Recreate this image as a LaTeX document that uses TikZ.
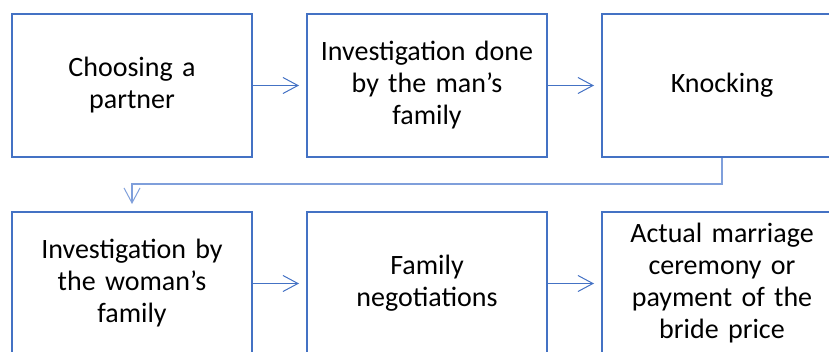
\documentclass[tikz,border=0pt]{standalone}
\usepackage{fontspec}
\setmainfont{Carlito}
\usetikzlibrary{arrows.meta}
\definecolor{boxblue}{HTML}{4472C4}
\definecolor{linkblue}{HTML}{7F9FDB}
\tikzset{
  stagebox/.style={draw=boxblue, line width=2pt, fill=white, minimum width=240pt,
    minimum height=143pt, inner sep=0pt, align=center, text width=220pt,
    font=\fontsize{28pt}{32pt}\selectfont},
  flow/.style={draw=boxblue, line width=1pt, shorten >=7pt,
    -{Straight Barb[length=15pt,width=16pt,line width=1pt]}},
  wrap/.style={draw=linkblue, line width=1.6pt, shorten >=7pt,
    -{Straight Barb[length=15pt,width=16pt,line width=1pt]}}
}
\begin{document}
\begin{tikzpicture}[x=1pt,y=1pt]
  \useasboundingbox (0,0) rectangle (829,351);
  \begin{scope}
    \clip (0,0) rectangle (829,351);
    % top row
    \node[stagebox] (s1) at (132,265.5) {Choosing a\\partner};
    \node[stagebox] (s2) at (427,265.5) {Investigation done\\by the man’s\\family};
    \node[stagebox] (s3) at (722,265.5) {Knocking};
    % bottom row
    \node[stagebox] (s4) at (132,67.5) {Investigation by\\the woman’s\\family};
    \node[stagebox] (s5) at (427,67.5) {Family\\negotiations};
    \node[stagebox] (s6) at (722,67.5) {Actual marriage\\ceremony or\\payment of the\\bride price};
    % connectors
    \draw[flow] (s1.east) -- (s2.west);
    \draw[flow] (s2.east) -- (s3.west);
    \coordinate (bendA) at (722,167);
    \coordinate (bendB) at (132,167);
    \draw[wrap] (s3.south) -- (bendA) -- (bendB) -- (s4.north);
    \draw[flow] (s4.east) -- (s5.west);
    \draw[flow] (s5.east) -- (s6.west);
  \end{scope}
\end{tikzpicture}
\end{document}
